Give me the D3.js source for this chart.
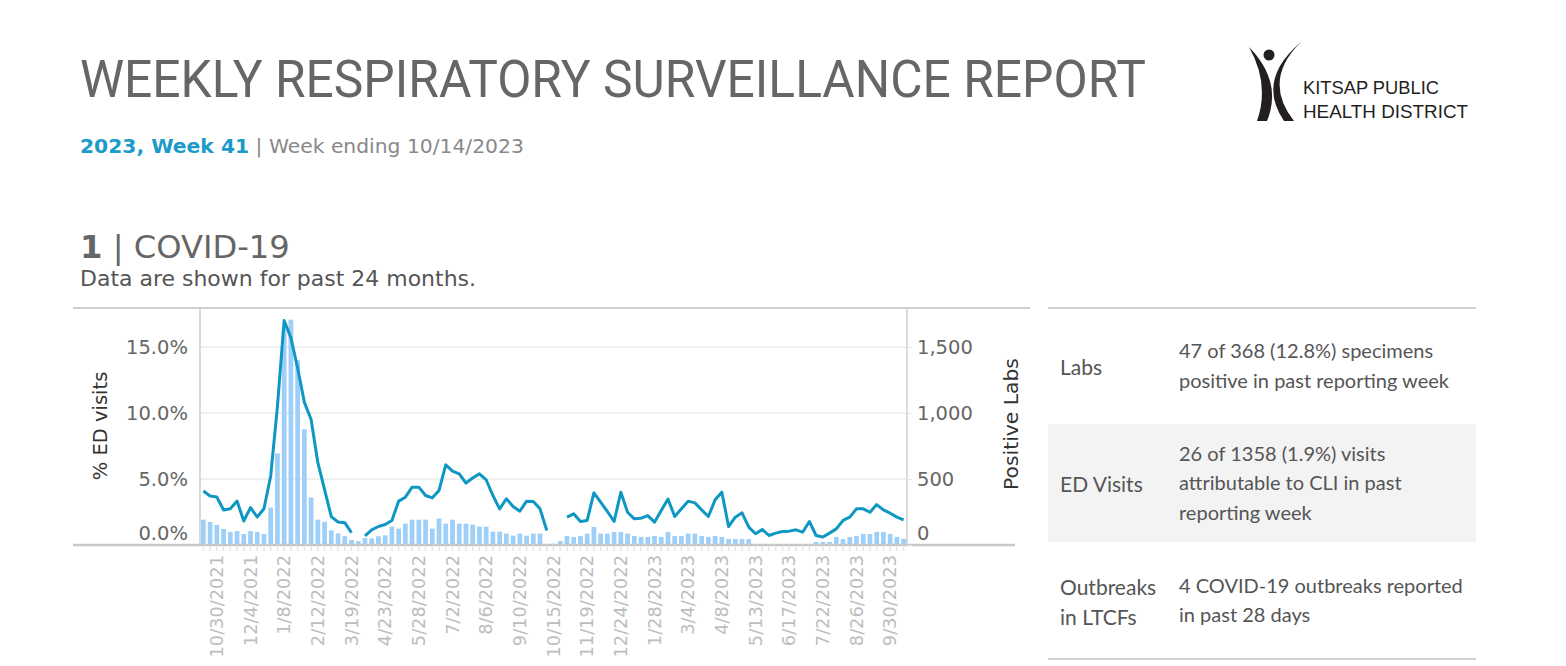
<!DOCTYPE html>
<html>
<head>
<meta charset="utf-8">
<script src="https://cdn.jsdelivr.net/npm/d3@7"></script>
<style>
  body { margin: 0; background: #fff; }
  svg text { font-family: "DejaVu Sans", sans-serif; }
</style>
</head>
<body>
<svg id="chart" width="1566" height="666"></svg>
<script>
// first week ending shown, and the weekly series (105 weeks, 10/16/2021 .. 10/14/2023)
var firstWeek = "2021-10-16";

// positive labs per week (null = no data reported)
var positiveLabs = [
  192, 175, 152, 121, 99, 106, 83, 106, 99, 83,
  283, 693, 1650, 1707, 1400, 876, 360, 192, 176, 110,
  88, 67, 38, 29, 52, 50, 66, 73, 139, 124,
  162, 192, 192, 192, 124, 200, 162, 192, 162, 162,
  154, 139, 139, 101, 101, 86, 71, 86, 71, 86,
  86, null, 10, 30, 68, 61, 68, 86, 136, 86,
  86, 99, 99, 86, 68, 61, 61, 68, 61, 99,
  68, 68, 86, 86, 68, 61, 68, 61, 46, 45,
  45, 45, null, null, null, null, null, null, null, null,
  null, 23, 23, 23, 61, 45, 61, 68, 83, 83,
  99, 99, 83, 61, 47
];

// % of ED visits for COVID-like illness per week
var edVisitPct = [
  4.09, 3.71, 3.64, 2.65, 2.75, 3.33, 1.82, 2.83, 2.12, 2.75,
  5.23, 10.5, 17.0, 15.7, 13.4, 10.8, 9.5, 6.24, 4.2, 2.15,
  1.74, 1.69, 0.93, null, 0.7, 1.15, 1.40, 1.55, 1.86, 3.32,
  3.62, 4.38, 4.38, 3.75, 3.57, 4.13, 6.07, 5.59, 5.39, 4.69,
  5.07, 5.39, 4.94, 3.75, 2.74, 3.5, 2.92, 2.56, 3.32, 3.29,
  2.74, 1.10, null, null, 2.11, 2.36, 1.78, 1.86, 3.95, 3.24,
  2.54, 1.78, 4.0, 2.48, 1.98, 2.03, 2.23, 1.73, 2.61, 3.48,
  2.16, 2.74, 3.32, 3.19, 2.66, 2.16, 3.42, 4.0, 1.4, 2.11,
  2.44, 1.35, 0.85, 1.18, 0.72, 0.9, 1.02, 1.05, 1.15, 0.97,
  1.78, 0.72, 0.6, 0.9, 1.22, 1.86, 2.11, 2.74, 2.74, 2.48,
  3.06, 2.66, 2.41, 2.11, 1.9
];

var xTickLabels = ["10/30/2021", "12/4/2021", "1/8/2022", "2/12/2022", "3/19/2022",
  "4/23/2022", "5/28/2022", "7/2/2022", "8/6/2022", "9/10/2022", "10/15/2022",
  "11/19/2022", "12/24/2022", "1/28/2023", "3/4/2023", "4/8/2023", "5/13/2023",
  "6/17/2023", "7/22/2023", "8/26/2023", "9/30/2023"];
var leftTicks = [0, 5, 10, 15];
var rightTicks = [0, 500, 1000, 1500];

var tableLabels = [["Labs"], ["ED Visits"], ["Outbreaks", "in LTCFs"]];
var tableTexts = [
  ["47 of 368 (12.8%) specimens", "positive in past reporting week"],
  ["26 of 1358 (1.9%) visits", "attributable to CLI in past", "reporting week"],
  ["4 COVID-19 outbreaks reported", "in past 28 days"]
];

var fmtDate = d3.timeFormat("%-m/%-d/%Y");
var start = d3.timeParse("%Y-%m-%d")(firstWeek);
var weeks = positiveLabs.map(function(d, i) { return fmtDate(d3.timeWeek.offset(start, i)); });

var data = weeks.map(function(w, i) {
  return { week: w, labs: positiveLabs[i], pct: edVisitPct[i] };
});

var svg = d3.select("#chart");

// ---- header ----
svg.append("text")
  .attr("x", 80).attr("y", 97)
  .attr("textLength", 1066).attr("lengthAdjust", "spacingAndGlyphs")
  .style("font-family", "Roboto").style("font-weight", 400)
  .style("font-size", "51px").style("fill", "#666")
  .text("WEEKLY RESPIRATORY SURVEILLANCE REPORT");

var sub = svg.append("text").attr("x", 80).attr("y", 153).style("font-size", "20.3px");
sub.append("tspan").style("font-weight", "bold").style("fill", "#1a9bc8").text("2023, Week 41");
sub.append("tspan").style("fill", "#888").text(" | Week ending 10/14/2023");

var sec = svg.append("text").attr("x", 80).attr("y", 258).style("font-size", "32.2px").style("fill", "#666");
sec.append("tspan").style("font-weight", "bold").text("1");
sec.append("tspan").text(" | COVID-19");

svg.append("text").attr("x", 80).attr("y", 286)
  .attr("textLength", 396).attr("lengthAdjust", "spacingAndGlyphs")
  .style("font-size", "21px").style("fill", "#555")
  .text("Data are shown for past 24 months.");

// ---- logo ----
var logo = svg.append("g").attr("fill", "#231f20");
logo.append("circle").attr("cx", 1269).attr("cy", 55).attr("r", 5.5);
logo.append("path").attr("d", "M1249,47 Q1283,82 1267,121 L1257,121 Q1270,84 1249,47 Z");
logo.append("path").attr("d", "M1301,42 Q1262,80 1294,121 L1284,121 Q1256,80 1301,42 Z");
logo.append("text").attr("x", 1303).attr("y", 94)
  .attr("textLength", 136).attr("lengthAdjust", "spacingAndGlyphs")
  .style("font-family", "Liberation Sans Narrow, Liberation Sans").style("font-size", "19px").style("fill", "#231f20")
  .text("KITSAP PUBLIC");
logo.append("text").attr("x", 1303).attr("y", 118)
  .attr("textLength", 165).attr("lengthAdjust", "spacingAndGlyphs")
  .style("font-family", "Liberation Sans Narrow, Liberation Sans").style("font-size", "19px").style("fill", "#231f20")
  .text("HEALTH DISTRICT");

// ---- chart ----
var plotL = 200, plotR = 907, plotT = 308, plotB = 545;

var x = d3.scaleBand().domain(weeks).range([plotL, plotR]).paddingInner(0.3).paddingOuter(0.15);
var yL = d3.scaleLinear().domain([0, 17.95]).range([plotB, plotT]);
var yR = d3.scaleLinear().domain([0, 1795]).range([plotB, plotT]);

// frame lines
svg.append("line").attr("x1", 73).attr("x2", 1030).attr("y1", plotT).attr("y2", plotT)
  .style("stroke", "#cfcfcf").style("stroke-width", 2);

// gridlines
svg.append("g").selectAll("line").data(leftTicks.slice(1)).enter().append("line")
  .attr("x1", plotL).attr("x2", plotR)
  .attr("y1", function(d) { return yL(d); }).attr("y2", function(d) { return yL(d); })
  .style("stroke", "#efefef").style("stroke-width", 2);

// bars
svg.append("g").selectAll("rect").data(data.filter(function(d) { return d.labs != null; }))
  .enter().append("rect")
  .attr("x", function(d) { return x(d.week); })
  .attr("width", x.bandwidth())
  .attr("y", function(d) { return yR(d.labs); })
  .attr("height", function(d) { return plotB - yR(d.labs); })
  .style("fill", "#9dcff9");

// line
var line = d3.line()
  .defined(function(d) { return d.pct != null; })
  .x(function(d) { return x(d.week) + x.bandwidth() / 2; })
  .y(function(d) { return yL(d.pct); });
svg.append("path").datum(data).attr("d", line)
  .style("fill", "none").style("stroke", "#0f97c4").style("stroke-width", 3)
  .style("stroke-linejoin", "round");

// axis lines
svg.append("line").attr("x1", plotL).attr("x2", plotL).attr("y1", plotT).attr("y2", plotB)
  .style("stroke", "#cfcfcf").style("stroke-width", 1.5);
svg.append("line").attr("x1", plotR).attr("x2", plotR).attr("y1", plotT).attr("y2", plotB)
  .style("stroke", "#cfcfcf").style("stroke-width", 1.5);
svg.append("line").attr("x1", 73).attr("x2", 1015).attr("y1", plotB).attr("y2", plotB)
  .style("stroke", "#c8c8c8").style("stroke-width", 2.5);

// left axis
var leftAxis = d3.axisLeft(yL).tickValues(leftTicks).tickSize(0).tickPadding(12)
  .tickFormat(function(d) { return d3.format(".1f")(d) + "%"; });
var gL = svg.append("g").attr("transform", "translate(" + plotL + ",0)").call(leftAxis);
gL.select(".domain").remove();
gL.selectAll("text").style("font-family", "DejaVu Sans").style("font-size", "19.5px").style("fill", "#666")
  .attr("y", function(d) { return d === 0 ? -12 : 0; });

// right axis
var rightAxis = d3.axisRight(yR).tickValues(rightTicks).tickSize(5).tickPadding(5)
  .tickFormat(d3.format(","));
var gR = svg.append("g").attr("transform", "translate(" + plotR + ",0)").call(rightAxis);
gR.select(".domain").remove();
gR.selectAll("line").style("stroke", "#e6e6e6");
gR.selectAll("text").style("font-family", "DejaVu Sans").style("font-size", "19.5px").style("fill", "#666")
  .attr("y", function(d) { return d === 0 ? -12 : 0; });

// bottom axis (dates)
var bottomAxis = d3.axisBottom(x).tickValues(xTickLabels).tickSize(0).tickPadding(0);
var gB = svg.append("g").attr("transform", "translate(0," + plotB + ")").call(bottomAxis);
gB.select(".domain").remove();
gB.selectAll("text")
  .attr("transform", "rotate(-90)")
  .attr("x", -10).attr("y", 0).attr("dy", "0.35em")
  .style("text-anchor", "end")
  .style("font-family", "DejaVu Sans").style("font-size", "17.8px").style("fill", "#bdbdbd");

// little week ticks under the baseline
svg.append("g").selectAll("line").data(weeks).enter().append("line")
  .attr("x1", function(d) { return x(d) + x.bandwidth() / 2; })
  .attr("x2", function(d) { return x(d) + x.bandwidth() / 2; })
  .attr("y1", plotB + 2).attr("y2", plotB + 6)
  .style("stroke", "#e4e4e4").style("stroke-width", 1.5);

// axis titles
svg.append("text").attr("transform", "translate(107,426) rotate(-90)")
  .style("text-anchor", "middle").style("font-size", "19.5px").style("fill", "#333")
  .text("% ED visits");
svg.append("text").attr("transform", "translate(1018,424) rotate(-90)")
  .style("text-anchor", "middle").style("font-size", "20.3px").style("fill", "#333")
  .text("Positive Labs");

// ---- summary table ----
var rowTops = [308, 424, 542, 659];
svg.append("rect").attr("x", 1048).attr("y", rowTops[1]).attr("width", 428).attr("height", rowTops[2] - rowTops[1])
  .style("fill", "#f3f3f3");
svg.append("line").attr("x1", 1048).attr("x2", 1476).attr("y1", 308).attr("y2", 308)
  .style("stroke", "#cfcfcf").style("stroke-width", 2);
svg.append("line").attr("x1", 1048).attr("x2", 1476).attr("y1", 659).attr("y2", 659)
  .style("stroke", "#cfcfcf").style("stroke-width", 2);

var lh = 29.5;
tableLabels.forEach(function(lines, i) {
  var mid = (rowTops[i] + rowTops[i + 1]) / 2 + 2;
  lines.forEach(function(t, j) {
    svg.append("text").attr("x", 1060)
      .attr("y", mid + (j - (lines.length - 1) / 2) * lh).attr("dy", "0.35em")
      .style("font-family", "Lato").style("font-size", "21px").style("fill", "#555")
      .text(t);
  });
});
tableTexts.forEach(function(lines, i) {
  var mid = (rowTops[i] + rowTops[i + 1]) / 2;
  lines.forEach(function(t, j) {
    svg.append("text").attr("x", 1179)
      .attr("y", mid + (j - (lines.length - 1) / 2) * lh).attr("dy", "0.35em")
      .style("font-family", "Lato").style("font-size", "20px").style("fill", "#555")
      .text(t);
  });
});
</script>
</body>
</html>
